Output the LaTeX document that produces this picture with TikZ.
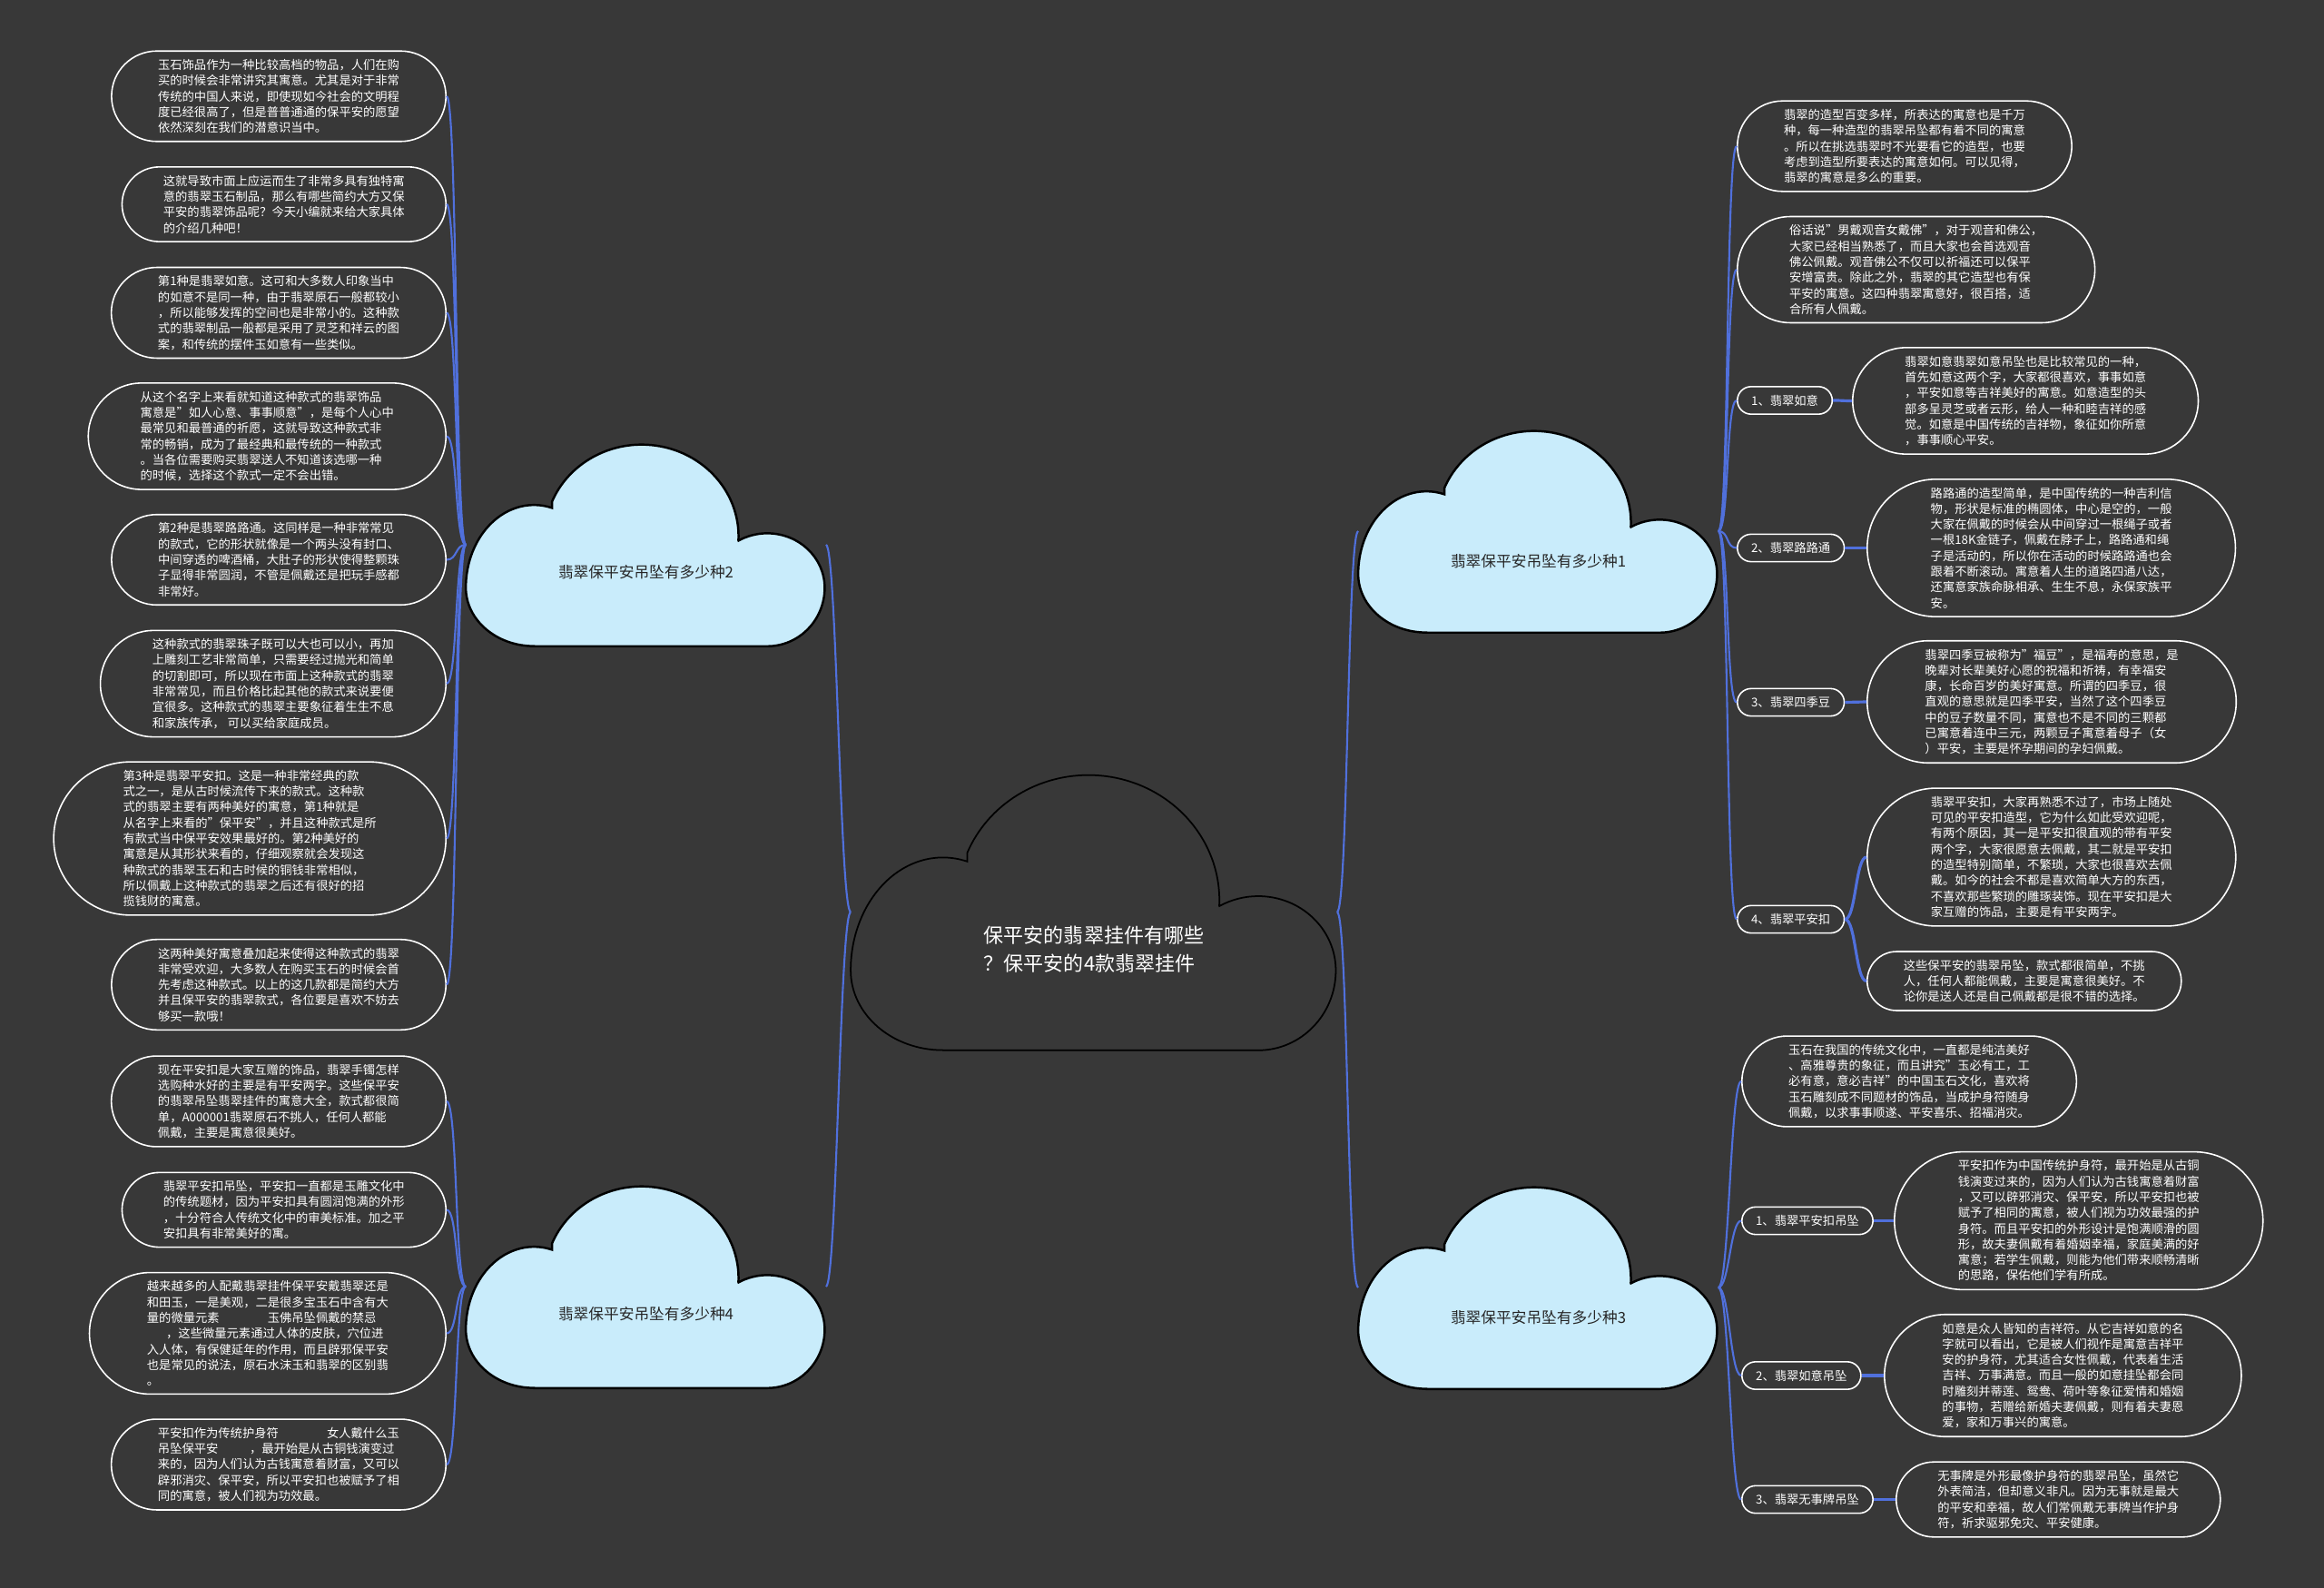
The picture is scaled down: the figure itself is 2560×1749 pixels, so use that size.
\documentclass[tikz,border=0pt]{standalone}
\usepackage{fontspec}
\setmainfont{Noto Sans CJK SC}
\usetikzlibrary{shapes.misc,backgrounds}
\definecolor{bgc}{RGB}{56,56,56}
\definecolor{linkc}{RGB}{80,112,220}
\definecolor{cloudc}{RGB}{201,236,251}

\begin{document}
\begin{tikzpicture}[
  x=0.01cm, y=-0.01cm,
  font=\fontsize{3.78pt}{4.92pt}\selectfont,
  note/.style={rounded rectangle, draw=white, line width=0.45pt, fill=bgc, text=white, align=left, inner xsep=0.3cm, inner ysep=0.09cm},
  tag/.style={note, minimum height=0.3cm, inner xsep=0.14cm},
  cloudbox/.style={minimum width=3.95cm, minimum height=2.22cm, inner sep=0pt},
  hubbox/.style={minimum width=5.34cm, minimum height=3.03cm, inner sep=0pt},
  cloudtxt/.style={font=\fontsize{4.75pt}{6pt}\selectfont, text=black!85},
  hubtxt/.style={font=\fontsize{6.26pt}{8.8pt}\selectfont, text=white, align=left},
  cloudfill/.style={fill=cloudc, draw=black, line width=0.7pt},
  hubfill/.style={fill=bgc, draw=black, line width=0.5pt},
  link/.style={draw=linkc, line width=0.6pt},
  tol/.style={link, out=180, in=0, out distance=0.12cm, in distance=0.12cm},
  tor/.style={link, out=0, in=180, out distance=0.12cm, in distance=0.12cm},
]
\useasboundingbox (0,0) rectangle (2560,1749);

% ---- clouds (boxes only, outlines below)
\node[hubbox] (c0) at (1205,1004.5) {};
\node[cloudbox] (c1) at (1694.5,585) {};
\node[cloudbox] (c2) at (711.5,600) {};
\node[cloudbox] (c3) at (1694.5,1418) {};
\node[cloudbox] (c4) at (711.5,1417) {};
\begin{scope}[on background layer]
\fill[bgc] (0,0) rectangle (2560,1749);
\foreach \n/\w/\h/\kind in {c0/5.34/3.03/hubfill, c1/3.95/2.22/cloudfill, c2/3.95/2.22/cloudfill, c3/3.95/2.22/cloudfill, c4/3.95/2.22/cloudfill} {
  \begin{scope}[shift={(\n.south west)}, x={(\w cm,0cm)}, y={(0cm,\h cm)}]
    \path[\kind] (0.19,0) -- (0.84,0)
      arc[start angle=-90, end angle=0, x radius=0.16, y radius=0.29]
      arc[start angle=0, end angle=120, x radius=0.16, y radius=0.27]
      -- (0.7597,0.525)
      arc[start angle=-2.5, end angle=157.8, x radius=0.27, y radius=0.455]
      -- (0.24,0.686)
      arc[start angle=74.7, end angle=180, x radius=0.19, y radius=0.41]
      arc[start angle=180, end angle=270, x radius=0.19, y radius=0.29]
      -- cycle;
  \end{scope}
}
\end{scope}
\node[hubtxt] (c0t) at ([yshift=-0.41cm]c0.center) {保平安的翡翠挂件有哪些\\？保平安的4款翡翠挂件};
\node[cloudtxt] (c1t) at ([yshift=-0.33cm]c1.center) {翡翠保平安吊坠有多少种1};
\node[cloudtxt] (c2t) at ([yshift=-0.3cm]c2.center) {翡翠保平安吊坠有多少种2};
\node[cloudtxt] (c3t) at ([yshift=-0.33cm]c3.center) {翡翠保平安吊坠有多少种3};
\node[cloudtxt] (c4t) at ([yshift=-0.3cm]c4.center) {翡翠保平安吊坠有多少种4};

% ---- branch 2 (left top)
\node[note, anchor=east] (L1) at (492,106) {玉石饰品作为一种比较高档的物品，人们在购\\买的时候会非常讲究其寓意。尤其是对于非常\\传统的中国人来说，即使现如今社会的文明程\\度已经很高了，但是普普通通的保平安的愿望\\依然深刻在我们的潜意识当中。};
\node[note, anchor=east] (L2) at (492,225) {这就导致市面上应运而生了非常多具有独特寓\\意的翡翠玉石制品，那么有哪些简约大方又保\\平安的翡翠饰品呢？今天小编就来给大家具体\\的介绍几种吧！};
\node[note, anchor=east] (L3) at (492,344.5) {第1种是翡翠如意。这可和大多数人印象当中\\的如意不是同一种，由于翡翠原石一般都较小\\，所以能够发挥的空间也是非常小的。这种款\\式的翡翠制品一般都是采用了灵芝和祥云的图\\案，和传统的摆件玉如意有一些类似。};
\node[note, anchor=east] (L4) at (492,480.5) {从这个名字上来看就知道这种款式的翡翠饰品\\寓意是"如人心意、事事顺意"，是每个人心中\\最常见和最普通的祈愿，这就导致这种款式非\\常的畅销，成为了最经典和最传统的一种款式\\。当各位需要购买翡翠送人不知道该选哪一种\\的时候，选择这个款式一定不会出错。};
\node[note, anchor=east] (L5) at (492,616.5) {第2种是翡翠路路通。这同样是一种非常常见\\的款式，它的形状就像是一个两头没有封口、\\中间穿透的啤酒桶，大肚子的形状使得整颗珠\\子显得非常圆润，不管是佩戴还是把玩手感都\\非常好。};
\node[note, anchor=east] (L6) at (492,753) {这种款式的翡翠珠子既可以大也可以小，再加\\上雕刻工艺非常简单，只需要经过抛光和简单\\的切割即可，所以现在市面上这种款式的翡翠\\非常常见，而且价格比起其他的款式来说要便\\宜很多。这种款式的翡翠主要象征着生生不息\\和家族传承， 可以买给家庭成员。};
\node[note, anchor=east] (L7) at (492,923.5) {第3种是翡翠平安扣。这是一种非常经典的款\\式之一，是从古时候流传下来的款式。这种款\\式的翡翠主要有两种美好的寓意，第1种就是\\从名字上来看的"保平安"，并且这种款式是所\\有款式当中保平安效果最好的。第2种美好的\\寓意是从其形状来看的，仔细观察就会发现这\\种款式的翡翠玉石和古时候的铜钱非常相似，\\所以佩戴上这种款式的翡翠之后还有很好的招\\揽钱财的寓意。};
\node[note, anchor=east] (L8) at (492,1084.5) {这两种美好寓意叠加起来使得这种款式的翡翠\\非常受欢迎，大多数人在购买玉石的时候会首\\先考虑这种款式。以上的这几款都是简约大方\\并且保平安的翡翠款式，各位要是喜欢不妨去\\够买一款哦！};

% ---- branch 4 (left bottom)
\node[note, anchor=east] (L9) at (492,1213) {现在平安扣是大家互赠的饰品，翡翠手镯怎样\\选购种水好的主要是有平安两字。这些保平安\\的翡翠吊坠翡翠挂件的寓意大全，款式都很简\\单，A000001翡翠原石不挑人，任何人都能\\佩戴，主要是寓意很美好。};
\node[note, anchor=east] (L10) at (492,1332.5) {翡翠平安扣吊坠，平安扣一直都是玉雕文化中\\的传统题材，因为平安扣具有圆润饱满的外形\\，十分符合人传统文化中的审美标准。加之平\\安扣具有非常美好的寓。};
\node[note, anchor=east] (L11) at (492,1468.5) {越来越多的人配戴翡翠挂件保平安戴翡翠还是\\和田玉，一是美观，二是很多宝玉石中含有大\\量的微量元素\hspace{4em}玉佛吊坠佩戴的禁忌\\\hspace*{1.6em}，这些微量元素通过人体的皮肤，穴位进\\入人体，有保健延年的作用，而且辟邪保平安\\也是常见的说法，原石水沫玉和翡翠的区别翡\\。};
\node[note, anchor=east] (L12) at (492,1613) {平安扣作为传统护身符\hspace{4em}女人戴什么玉\\吊坠保平安\hspace{2.6em}，最开始是从古铜钱演变过\\来的，因为人们认为古钱寓意着财富，又可以\\辟邪消灾、保平安，所以平安扣也被赋予了相\\同的寓意，被人们视为功效最。};

% ---- branch 1 (right top)
\node[note, anchor=west] (R1) at (1913,161) {翡翠的造型百变多样，所表达的寓意也是千万\\种，每一种造型的翡翠吊坠都有着不同的寓意\\。所以在挑选翡翠时不光要看它的造型，也要\\考虑到造型所要表达的寓意如何。可以见得，\\翡翠的寓意是多么的重要。};
\node[note, anchor=west] (R2) at (1913,297) {俗话说"男戴观音女戴佛"，对于观音和佛公，\\大家已经相当熟悉了，而且大家也会首选观音\\佛公佩戴。观音佛公不仅可以祈福还可以保平\\安增富贵。除此之外，翡翠的其它造型也有保\\平安的寓意。这四种翡翠寓意好，很百搭，适\\合所有人佩戴。};
\node[tag, anchor=west] (t1) at (1913,441) {1、翡翠如意};
\node[note, anchor=west] (R3) at (2040,441.5) {翡翠如意翡翠如意吊坠也是比较常见的一种，\\首先如意这两个字，大家都很喜欢，事事如意\\，平安如意等吉祥美好的寓意。如意造型的头\\部多呈灵芝或者云形，给人一种和睦吉祥的感\\觉。如意是中国传统的吉祥物，象征如你所意\\，事事顺心平安。};
\node[tag, anchor=west] (t2) at (1913,603.5) {2、翡翠路路通};
\node[note, anchor=west] (R4) at (2056,603.5) {路路通的造型简单，是中国传统的一种吉利信\\物，形状是标准的椭圆体，中心是空的，一般\\大家在佩戴的时候会从中间穿过一根绳子或者\\一根18K金链子，佩戴在脖子上，路路通和绳\\子是活动的，所以你在活动的时候路路通也会\\跟着不断滚动。寓意着人生的道路四通八达，\\还寓意家族命脉相承、生生不息，永保家族平\\安。};
\node[tag, anchor=west] (t3) at (1913,773.5) {3、翡翠四季豆};
\node[note, anchor=west] (R5) at (2056,773) {翡翠四季豆被称为"福豆"，是福寿的意思，是\\晚辈对长辈美好心愿的祝福和祈祷，有幸福安\\康，长命百岁的美好寓意。所谓的四季豆，很\\直观的意思就是四季平安，当然了这个四季豆\\中的豆子数量不同，寓意也不是不同的三颗都\\已寓意着连中三元，两颗豆子寓意着母子（女\\）平安，主要是怀孕期间的孕妇佩戴。};
\node[tag, anchor=west] (t4) at (1913,1012.5) {4、翡翠平安扣};
\node[note, anchor=west] (R6) at (2056,944) {翡翠平安扣，大家再熟悉不过了，市场上随处\\可见的平安扣造型，它为什么如此受欢迎呢，\\有两个原因，其一是平安扣很直观的带有平安\\两个字，大家很愿意去佩戴，其二就是平安扣\\的造型特别简单，不繁琐，大家也很喜欢去佩\\戴。如今的社会不都是喜欢简单大方的东西，\\不喜欢那些繁琐的雕琢装饰。现在平安扣是大\\家互赠的饰品，主要是有平安两字。};
\node[note, anchor=west] (R7) at (2056,1080.5) {这些保平安的翡翠吊坠，款式都很简单，不挑\\人，任何人都能佩戴，主要是寓意很美好。不\\论你是送人还是自己佩戴都是很不错的选择。};

% ---- branch 3 (right bottom)
\node[note, anchor=west] (R8) at (1918,1191) {玉石在我国的传统文化中，一直都是纯洁美好\\、高雅尊贵的象征，而且讲究"玉必有工，工\\必有意，意必吉祥"的中国玉石文化，喜欢将\\玉石雕刻成不同题材的饰品，当成护身符随身\\佩戴，以求事事顺遂、平安喜乐、招福消灾。};
\node[tag, anchor=west] (t5) at (1918,1344.5) {1、翡翠平安扣吊坠};
\node[note, anchor=west] (R9) at (2086,1344.5) {平安扣作为中国传统护身符，最开始是从古铜\\钱演变过来的，因为人们认为古钱寓意着财富\\，又可以辟邪消灾、保平安，所以平安扣也被\\赋予了相同的寓意，被人们视为功效最强的护\\身符。而且平安扣的外形设计是饱满顺滑的圆\\形，故夫妻佩戴有着婚姻幸福，家庭美满的好\\寓意；若学生佩戴，则能为他们带来顺畅清晰\\的思路，保佑他们学有所成。};
\node[tag, anchor=west] (t6) at (1918,1515) {2、翡翠如意吊坠};
\node[note, anchor=west] (R10) at (2075,1515) {如意是众人皆知的吉祥符。从它吉祥如意的名\\字就可以看出，它是被人们视作是寓意吉祥平\\安的护身符，尤其适合女性佩戴，代表着生活\\吉祥、万事满意。而且一般的如意挂坠都会同\\时雕刻并蒂莲、鸳鸯、荷叶等象征爱情和婚姻\\的事物，若赠给新婚夫妻佩戴，则有着夫妻恩\\爱，家和万事兴的寓意。};
\node[tag, anchor=west] (t7) at (1918,1651.5) {3、翡翠无事牌吊坠};
\node[note, anchor=west] (R11) at (2088,1651.5) {无事牌是外形最像护身符的翡翠吊坠，虽然它\\外表简洁，但却意义非凡。因为无事就是最大\\的平安和幸福，故人们常佩戴无事牌当作护身\\符，祈求驱邪免灾、平安健康。};

% ---- links
\draw[tol] (c0.west) to (c2.east);
\draw[tol] (c0.west) to (c4.east);
\draw[tor] (c0.east) to (c1.west);
\draw[tor] (c0.east) to (c3.west);
\foreach \n in {L1,L2,L3,L4,L5,L6,L7,L8} \draw[tol] (c2.west) to (\n.east);
\foreach \n in {L9,L10,L11,L12} \draw[tol] (c4.west) to (\n.east);
\foreach \n in {R1,R2,t1,t2,t3,t4} \draw[tor] (c1.east) to (\n.west);
\foreach \n in {R8,t5,t6,t7} \draw[tor] (c3.east) to (\n.west);
\foreach \a/\b in {t1/R3,t2/R4,t3/R5,t4/R6,t4/R7,t5/R9,t6/R10,t7/R11}
  \draw[tor, line width=0.9pt] (\a.east) to (\b.west);
\end{tikzpicture}
\end{document}
